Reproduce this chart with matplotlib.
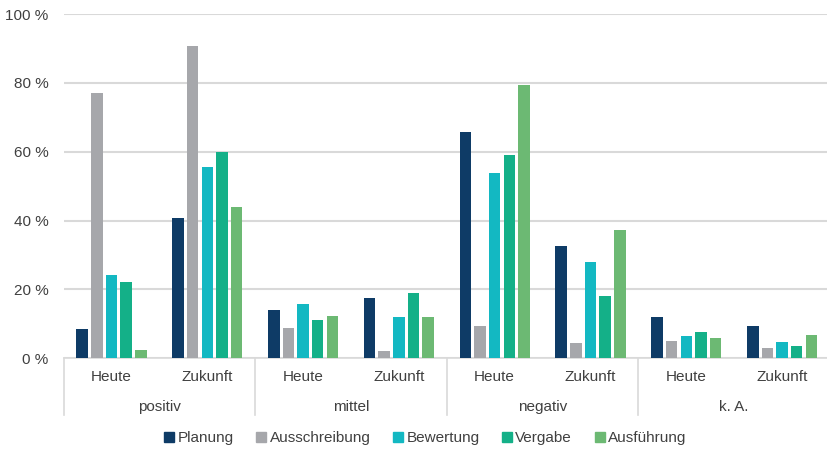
import numpy as np
import matplotlib.pyplot as plt
from matplotlib.lines import Line2D
import matplotlib.transforms as mtransforms

plt.rcParams['font.family'] = ['Liberation Sans', 'DejaVu Sans']

groups = ["positiv", "mittel", "negativ", "k. A."]
periods = ["Heute", "Zukunft"]
series = ["Planung", "Ausschreibung", "Bewertung", "Vergabe", "Ausführung"]

# Werte in %, Reihenfolge: positiv Heute/Zukunft, mittel ..., negativ ..., k. A. ...
planung       = [8.4, 40.7, 13.9, 17.6, 65.7, 32.5, 12.1, 9.3]
ausschreibung = [77.0, 90.7, 8.8, 2.0, 9.3, 4.4, 5.0, 3.0]
bewertung     = [24.1, 55.5, 15.8, 12.1, 53.7, 27.9, 6.5, 4.6]
vergabe       = [22.2, 60.0, 11.1, 19.0, 59.0, 18.1, 7.6, 3.5]
ausfuehrung   = [2.4, 44.0, 12.3, 12.0, 79.3, 37.2, 6.0, 6.8]

values = [planung, ausschreibung, bewertung, vergabe, ausfuehrung]
colors = ['#0E3B66', '#A6A7AB', '#13B8C2', '#14B088', '#6CB973']
text_color = '#404040'
grid_color = '#D9D9D9'

fig = plt.figure(figsize=(8.27, 4.49), dpi=100)
ax = fig.add_axes([0.0769, 0.202, 0.9267, 0.7668])

x = np.arange(len(planung))
width = 0.12
pitch = 0.153
for i, (vals, c) in enumerate(zip(values, colors)):
    ax.bar(x + (i - 2) * pitch, vals, width=width, color=c, zorder=3)

ax.set_xlim(-0.5, len(x) - 0.5)
ax.set_ylim(0, 100)
ax.set_yticks(np.arange(0, 101, 20))
ax.set_yticklabels([f"{v} %" for v in range(0, 101, 20)])
ax.tick_params(axis='y', length=0, pad=11, labelsize=11, labelcolor=text_color)
ax.tick_params(axis='x', length=0, labelbottom=False)
ax.grid(axis='y', color=grid_color, linewidth=1.5, zorder=0)
for s in ['left', 'right', 'top']:
    ax.spines[s].set_visible(False)
ax.spines['bottom'].set_color(grid_color)
ax.spines['bottom'].set_linewidth(1.2)

# zweistufige Kategorieachse
trans = mtransforms.blended_transform_factory(ax.transData, ax.transAxes)
for k in range(len(x)):
    ax.text(x[k], -0.055, periods[k % 2], transform=trans, ha='center', va='center',
            fontsize=11, color=text_color)
for g, name in enumerate(groups):
    ax.text(2 * g + 0.5, -0.142, name, transform=trans, ha='center', va='center',
            fontsize=11, color=text_color)
for d in range(len(groups) + 1):
    ax.plot([2 * d - 0.5, 2 * d - 0.5], [0, -0.166], transform=trans, color=grid_color,
            linewidth=1.2, clip_on=False)

handles = [Line2D([], [], marker='s', linestyle='none', markersize=7, color=c) for c in colors]
fig.legend(handles, series, loc='center', bbox_to_anchor=(424 / 827, 1 - 438 / 449),
           ncol=5, frameon=False, fontsize=11, handletextpad=0.05, columnspacing=1.3,
           labelcolor=text_color, handlelength=1.0)

fig.savefig("out.png", dpi=100)
